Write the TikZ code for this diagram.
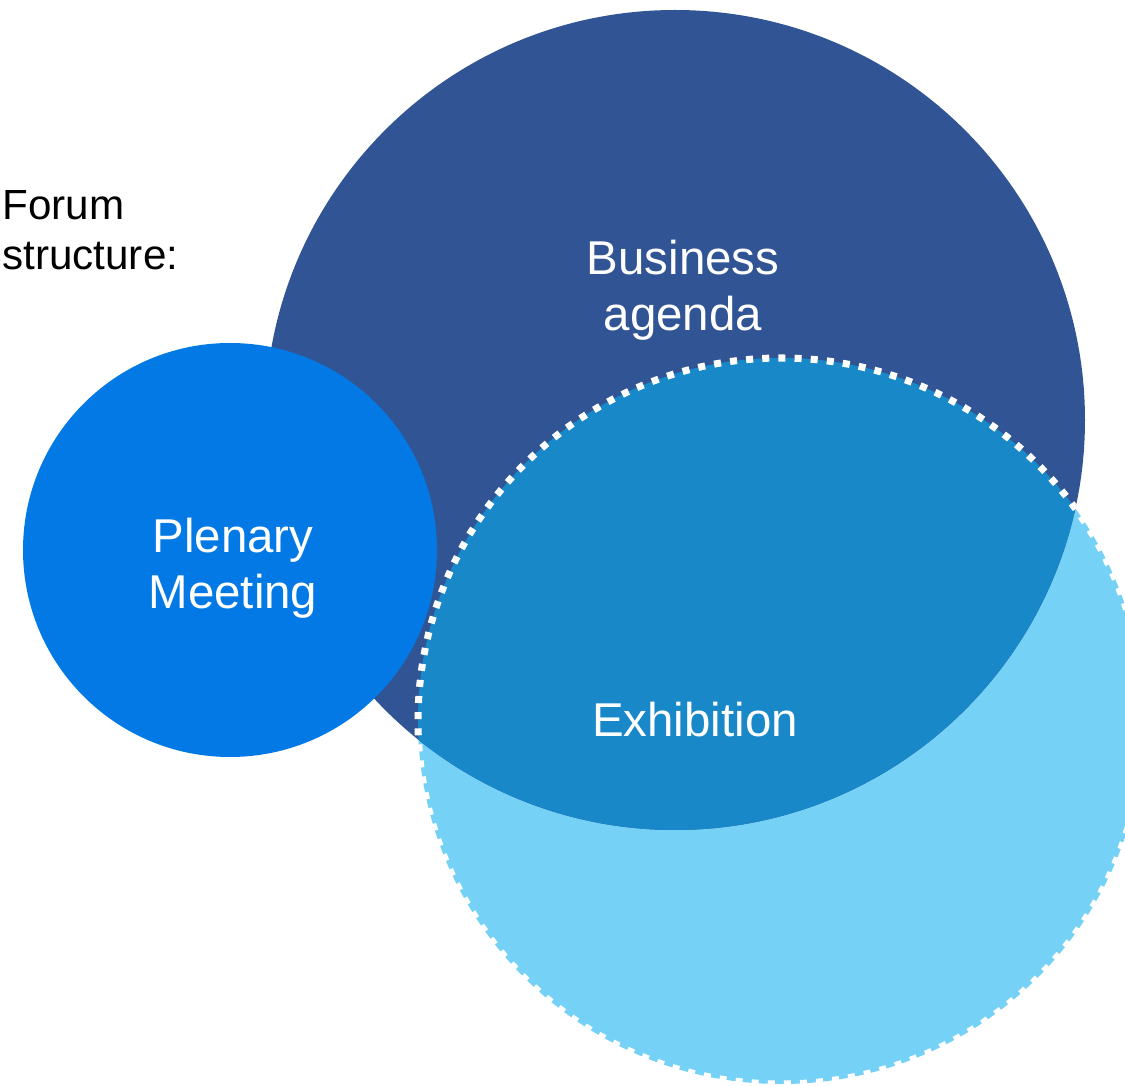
\documentclass[tikz,border=0pt]{standalone}
\usepackage{fontspec}
\setmainfont{Liberation Sans}
\usetikzlibrary{calc}
\definecolor{agendablue}{HTML}{315594}
\definecolor{plenaryblue}{HTML}{0279E5}
\definecolor{overlapblue}{HTML}{1888C9}
\definecolor{expoblue}{HTML}{75D2F6}
\tikzset{
    circtext/.style={text=white,font=\fontsize{13.5}{16}\selectfont,align=center},
    dotborder/.style={draw=white,line width=2pt,dash pattern=on 2pt off 2.6pt},
  }

\begin{document}
\begin{tikzpicture}
	\useasboundingbox (0,0) rectangle (11.25,-10.86);
	%centres
	\coordinate (B) at (6.75,-4.20);
	\coordinate (E) at (7.81,-7.21);
	\coordinate (P) at (2.30,-5.50);
	\fill[expoblue] (E) circle (3.63);
	\fill[agendablue] (B) circle (4.10);
	%overlap
	\begin{scope}
		\clip (B) circle (4.10);
		\fill[overlapblue] (E) circle (3.63);
	\end{scope}
	\fill[plenaryblue] (P) circle (2.07);
	\draw[dotborder] (E) circle (3.63);
	\node[circtext] (agenda) at (6.83,-2.90) {Business\\agenda};
	\node[circtext] (plenary) at (2.33,-5.68) {Plenary\\Meeting};
	\node[circtext] (expo) at (6.95,-7.20) {Exhibition};
	\node[anchor=west,align=left,font=\fontsize{12}{14.2}\selectfont] (forum) at (-0.10,-2.30) {Forum\\structure:};
\end{tikzpicture}
\end{document}
